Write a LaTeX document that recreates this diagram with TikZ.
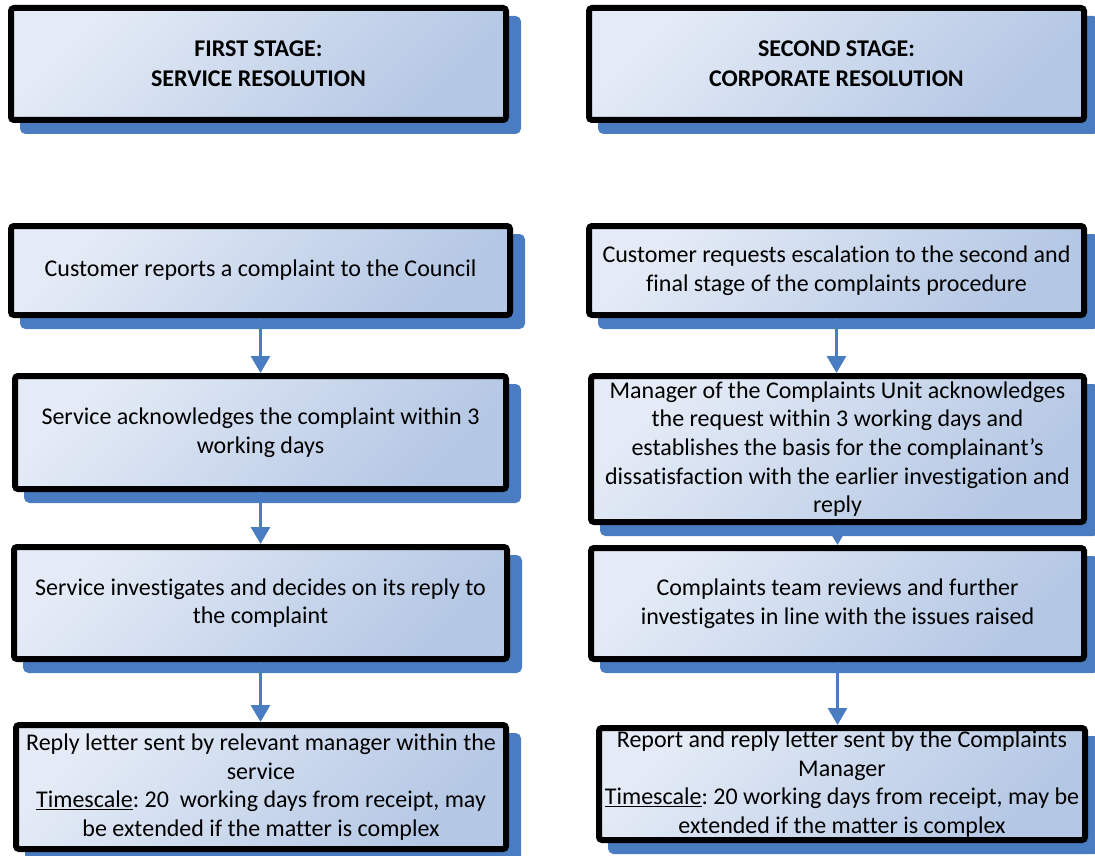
\documentclass[tikz,border=0pt]{standalone}
\usepackage{fontspec}
\setmainfont{Carlito}[Ligatures={NoCommon}]
\usetikzlibrary{arrows.meta}
\definecolor{sblue}{RGB}{74,124,194}
\definecolor{gtop}{RGB}{228,235,246}
\definecolor{gbot}{RGB}{180,199,228}
\frenchspacing
\tikzset{
  box/.style={draw=black, line width=6pt, rounded corners=3pt,
    top color=gtop, bottom color=gbot, shading angle=45,
    align=center, inner sep=0pt,
    font=\frenchspacing\fontsize{24}{28.7}\selectfont,
    preaction={draw=sblue, fill=sblue, line width=6pt,
      transform canvas={xshift=12pt, yshift=-11pt}}},
  titlebox/.style={box, font=\bfseries\fontsize{24}{30}\selectfont},
  flow/.style={draw=sblue, line width=3pt, -{Triangle[width=19pt,length=17pt]}}
}
\begin{document}
\begin{tikzpicture}[x=1pt, y=-1pt]
\useasboundingbox (0,0) rectangle (1095,856);
% titles
\node[titlebox, minimum width=495pt, minimum height=112pt] (T1) at (258.5,64) {FIRST STAGE:\\SERVICE RESOLUTION};
\node[titlebox, minimum width=495pt, minimum height=112pt] (T2) at (836.5,64) {SECOND STAGE:\\CORPORATE RESOLUTION};
% left column
\node[box, minimum width=499pt, minimum height=89pt] (L1) at (260.5,270.5) {Customer reports a complaint to the Council};
\node[box, minimum width=491pt, minimum height=113pt] (L2) at (260.5,432.5) {Service acknowledges the complaint within 3\\working days};
\node[box, minimum width=493pt, minimum height=112pt] (L3) at (260.5,603) {Service investigates and decides on its reply to\\the complaint};
\node[box, minimum width=490pt, minimum height=124pt] (L4) at (261,787) {Reply letter sent by relevant manager within the\\service\\\underline{Timescale}: 20\ \ working days from receipt, may\\be extended if the matter is complex};
% right column
\node[box, minimum width=495pt, minimum height=89pt] (R1) at (836.5,270.5) {Customer requests escalation to the second and\\final stage of the complaints procedure};
\node[box, minimum width=493pt, minimum height=146pt] (R2) at (837.5,449) {Manager of the Complaints Unit acknowledges\\the request within 3 working days and\\establishes the basis for the complainant’s\\dissatisfaction with the earlier investigation and\\reply};
\node[box, minimum width=493pt, minimum height=111pt] (R3) at (837.5,603.5) {Complaints team reviews and further\\investigates in line with the issues raised};
\node[box, minimum width=486pt, minimum height=112pt] (R4) at (842,784) {Report and reply letter sent by the Complaints\\Manager\\\underline{Timescale}: 20 working days from receipt, may be\\extended if the matter is complex};
% connectors
\draw[flow] (L1.south) -- (L1.south |- L2.north);
\draw[flow] (L2.south) -- (L2.south |- L3.north);
\draw[flow] (L3.south) -- (L3.south |- L4.north);
\draw[flow] (R1.south) -- (R1.south |- R2.north);
\draw[flow] (R2.south) -- (R2.south |- R3.north);
\draw[flow] (R3.south) -- (R3.south |- R4.north);
\end{tikzpicture}
\end{document}
